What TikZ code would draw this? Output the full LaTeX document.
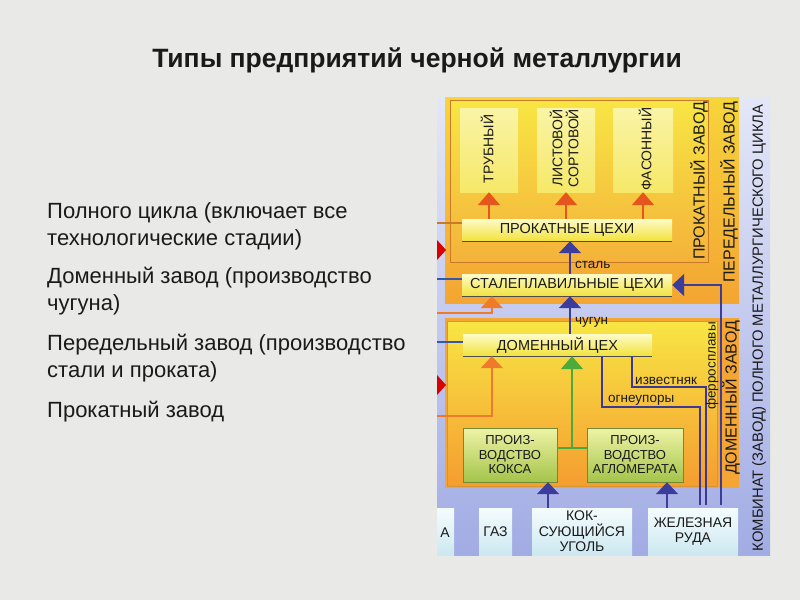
\documentclass[tikz,border=0pt]{standalone}
\usepackage{fontspec}
\setmainfont{Liberation Sans}
\usetikzlibrary{arrows.meta,calc}
\definecolor{bg}{HTML}{E9E9E7}
\definecolor{txt}{HTML}{1A1A1A}
\definecolor{kombtop}{HTML}{E4E7F8}
\definecolor{kombbot}{HTML}{A2ACE4}
\definecolor{peryel}{HTML}{F7D53A}
\definecolor{perora}{HTML}{F4A533}
\definecolor{prokyel}{HTML}{F8E644}
\definecolor{prokora}{HTML}{F4B23A}
\definecolor{frameline}{HTML}{C87A28}
\definecolor{boxtop}{HTML}{FDFBC8}
\definecolor{boxbot}{HTML}{F2E23C}
\definecolor{coltop}{HTML}{FAF4A6}
\definecolor{colbot}{HTML}{F6E868}
\definecolor{grtop}{HTML}{EEF3A6}
\definecolor{grbot}{HTML}{A4C44A}
\definecolor{srctop}{HTML}{F4FCFD}
\definecolor{srcbot}{HTML}{CDE8F1}
\definecolor{redarrc}{HTML}{E4561E}
\definecolor{orarrc}{HTML}{F07A2C}
\definecolor{bluearrc}{HTML}{3C3C9C}
\definecolor{blueline}{HTML}{3656B0}
\definecolor{greenarrc}{HTML}{4CAA3C}
\definecolor{navy}{HTML}{3E3894}
\begin{document}
\begin{tikzpicture}[x=1pt,y=-1pt,
  every node/.style={text=txt},
  procbox/.style={rectangle, inner sep=0pt, minimum height=22pt, top color=boxtop, bottom color=boxbot,
     font=\fontsize{14.5}{16}\selectfont},
  colbox/.style={rectangle, inner sep=0pt, minimum height=84pt, top color=coltop, bottom color=colbot},
  grbox/.style={rectangle, inner sep=0pt, minimum height=54pt, top color=grtop, bottom color=grbot,
     draw=grbot!70!black, line width=0.4pt, align=center, font=\fontsize{13}{14.5}\selectfont},
  srcbox/.style={rectangle, inner sep=0pt, minimum height=47pt, top color=srctop, bottom color=srcbot,
     align=center, font=\fontsize{14}{15.5}\selectfont},
  vlabel/.style={rotate=90, font=\fontsize{16}{18}\selectfont},
  collabel/.style={rotate=90, align=center, font=\fontsize{14}{16}\selectfont},
  small/.style={font=\fontsize{13.5}{15}\selectfont, inner sep=0pt},
  redarr/.style={draw=redarrc, line width=2pt, -{Triangle[length=13pt,width=22pt,fill=redarrc]}},
  orarr/.style={draw=orarrc, line width=1.6pt, -{Triangle[length=12pt,width=22pt,fill=orarrc]}},
  bluearr/.style={draw=bluearrc, line width=2pt, -{Triangle[length=12pt,width=22pt,fill=bluearrc]}},
  greenarr/.style={draw=greenarrc, line width=2pt, -{Triangle[length=13pt,width=22pt,fill=greenarrc]}},
  greenline/.style={draw=greenarrc, line width=2pt},
  navyline/.style={draw=navy, line width=2.4pt},
  blueleft/.style={draw=blueline, line width=2.5pt},
  orleft/.style={draw=frameline, line width=1.6pt},
  bodytext/.style={anchor=west, align=left, inner sep=0pt, font=\fontsize{22}{27}\selectfont},
]
\useasboundingbox (0,0) rectangle (800,600);
\fill[bg] (0,0) rectangle (800,600);

% title
\node[font=\fontsize{26.5}{30}\selectfont\bfseries] (title) at (417,60) {Типы предприятий черной металлургии};

% left text
\node[bodytext] (t1) at (47,226) {Полного цикла (включает все\\технологические стадии)};
\node[bodytext] (t2) at (47,291.5) {Доменный завод (производство\\чугуна)};
\node[bodytext] (t3) at (47,358.5) {Передельный завод (производство\\стали и проката)};
\node[bodytext] (t4) at (47,412) {Прокатный завод};

% regions
\shade[top color=kombtop, bottom color=kombbot] (437,97) rectangle (770,555);
\shade[top color=peryel, bottom color=perora] (445,97) rectangle (739,303);
\shade[top color=prokyel, bottom color=prokora, draw=frameline, line width=1pt] (450,100) rectangle (708,262);
\fill[perora] (445,318) rectangle (739,488);
\shade[top color=prokyel, bottom color=perora!95!red, draw=perora!90!black, line width=0.6pt] (447,321) rectangle (717,486);

% region labels
\node[vlabel] (lprok) at (699,181) {ПРОКАТНЫЙ ЗАВОД};
\node[vlabel] (lper) at (729,192) {ПЕРЕДЕЛЬНЫЙ ЗАВОД};
\node[vlabel] (ldom) at (731,398) {ДОМЕННЫЙ ЗАВОД};
\node[rotate=90, font=\fontsize{14.8}{16}\selectfont] (lkomb) at (759,328) {КОМБИНАТ (ЗАВОД) ПОЛНОГО МЕТАЛЛУРГИЧЕСКОГО ЦИКЛА};

% product columns
\node[colbox, minimum width=58pt] (col1) at (489,150) {};
\node[colbox, minimum width=58pt] (col2) at (566,150) {};
\node[colbox, minimum width=60pt] (col3) at (643,150) {};
\node[collabel] at (487,149) {ТРУБНЫЙ};
\node[collabel] at (564,148) {ЛИСТОВОЙ\\СОРТОВОЙ};
\node[collabel] at (645,149) {ФАСОННЫЙ};

% process boxes
\node[procbox, minimum width=210pt] (prok) at (567,230) {ПРОКАТНЫЕ ЦЕХИ};
\node[procbox, minimum width=210pt] (stal) at (567,285) {СТАЛЕПЛАВИЛЬНЫЕ ЦЕХИ};
\node[procbox, minimum width=189pt] (dom) at (557.5,345) {ДОМЕННЫЙ ЦЕХ};
\foreach \b in {prok,stal,dom}{
  \draw[black!70, line width=1pt] (\b.south west) -- (\b.south east);
}
\node[grbox, minimum width=94pt] (koks) at (510,455) {ПРОИЗ-\\ВОДСТВО\\КОКСА};
\node[grbox, minimum width=96pt] (aglo) at (635,455) {ПРОИЗ-\\ВОДСТВО\\АГЛОМЕРАТА};

% source boxes
\node[srcbox, minimum width=17pt] (srca) at (445.5,531.5) {};
\node[font=\fontsize{14}{16}\selectfont, inner sep=0pt] (srcatext) at (445,533) {А};
\node[srcbox, minimum width=33pt] (gaz) at (495.5,531.5) {ГАЗ};
\node[srcbox, minimum width=100pt] (ugol) at (582,531.5) {КОК-\\СУЮЩИЙСЯ\\УГОЛЬ};
\node[srcbox, minimum width=90pt] (ruda) at (693,531.5) {ЖЕЛЕЗНАЯ\\РУДА};

% product arrows
\draw[redarr] (prok.north -| col1.south) -- (col1.south);
\draw[redarr] (prok.north -| col2.south) -- (col2.south);
\draw[redarr] (prok.north -| col3.south) -- (col3.south);

% main flow
\draw[bluearr] ([xshift=3pt]stal.north) -- ([xshift=3pt]prok.south);
\draw[bluearr] ([xshift=3pt]stal.south |- dom.north) -- ([xshift=3pt]stal.south);
\node[small, anchor=west] (lstal) at (575,265) {сталь};
\node[small, anchor=west] (lchug) at (575,322) {чугун};

% green
\draw[greenline] ([yshift=7pt]koks.east) -- ([yshift=7pt]aglo.west);
\coordinate (gj) at ($([yshift=7pt]koks.east)!0.5!([yshift=7pt]aglo.west)$);
\draw[greenarr] (gj) -- (gj |- dom.south);

% raw materials
\draw[bluearr] ([xshift=-34pt]ugol.north) -- ([xshift=-34pt]ugol.north |- koks.south);
\draw[bluearr] ([xshift=-26pt]ruda.north) -- ([xshift=-26pt]ruda.north |- aglo.south);

% additives
\coordinate (izvBend) at (706,387);
\coordinate (izvEnd) at (706,505);
\coordinate (ognBend) at (700,407);
\coordinate (ognEnd) at (700,505);
\coordinate (ferEnd) at (721,505);
\draw[navyline] ([xshift=74.5pt]dom.south) |- (izvBend) -- (izvEnd);
\draw[navyline] ([xshift=44.5pt]dom.south) |- (ognBend) -- (ognEnd);
\draw[bluearr] (ferEnd) |- (stal.east);
\node[small, anchor=south west] (lizv) at (635,385) {известняк};
\node[small, anchor=south west] (logn) at (608,405) {огнеупоры};
\node[small, rotate=90] (lfer) at (712,366) {ферросплавы};

% inputs from the left
\coordinate (l1) at (437,223);
\coordinate (l2) at (437,279);
\coordinate (l3) at (437,313);
\coordinate (l4) at (437,342);
\coordinate (l5) at (437,416);
\draw[orleft] (l1) -- (l1 -| prok.west);
\draw[blueleft] (l2) -- (l2 -| stal.west);
\draw[orarr] (l3) -| ([xshift=30pt]stal.south west);
\draw[blueleft] (l4) -- (l4 -| dom.west);
\draw[orarr] (l5) -| ([xshift=29pt]dom.south west);
\fill[red!85!black] (437,240) -- (446,250) -- (437,260) -- cycle;
\fill[red!85!black] (437,375) -- (446,385) -- (437,395) -- cycle;
\end{tikzpicture}
\end{document}
